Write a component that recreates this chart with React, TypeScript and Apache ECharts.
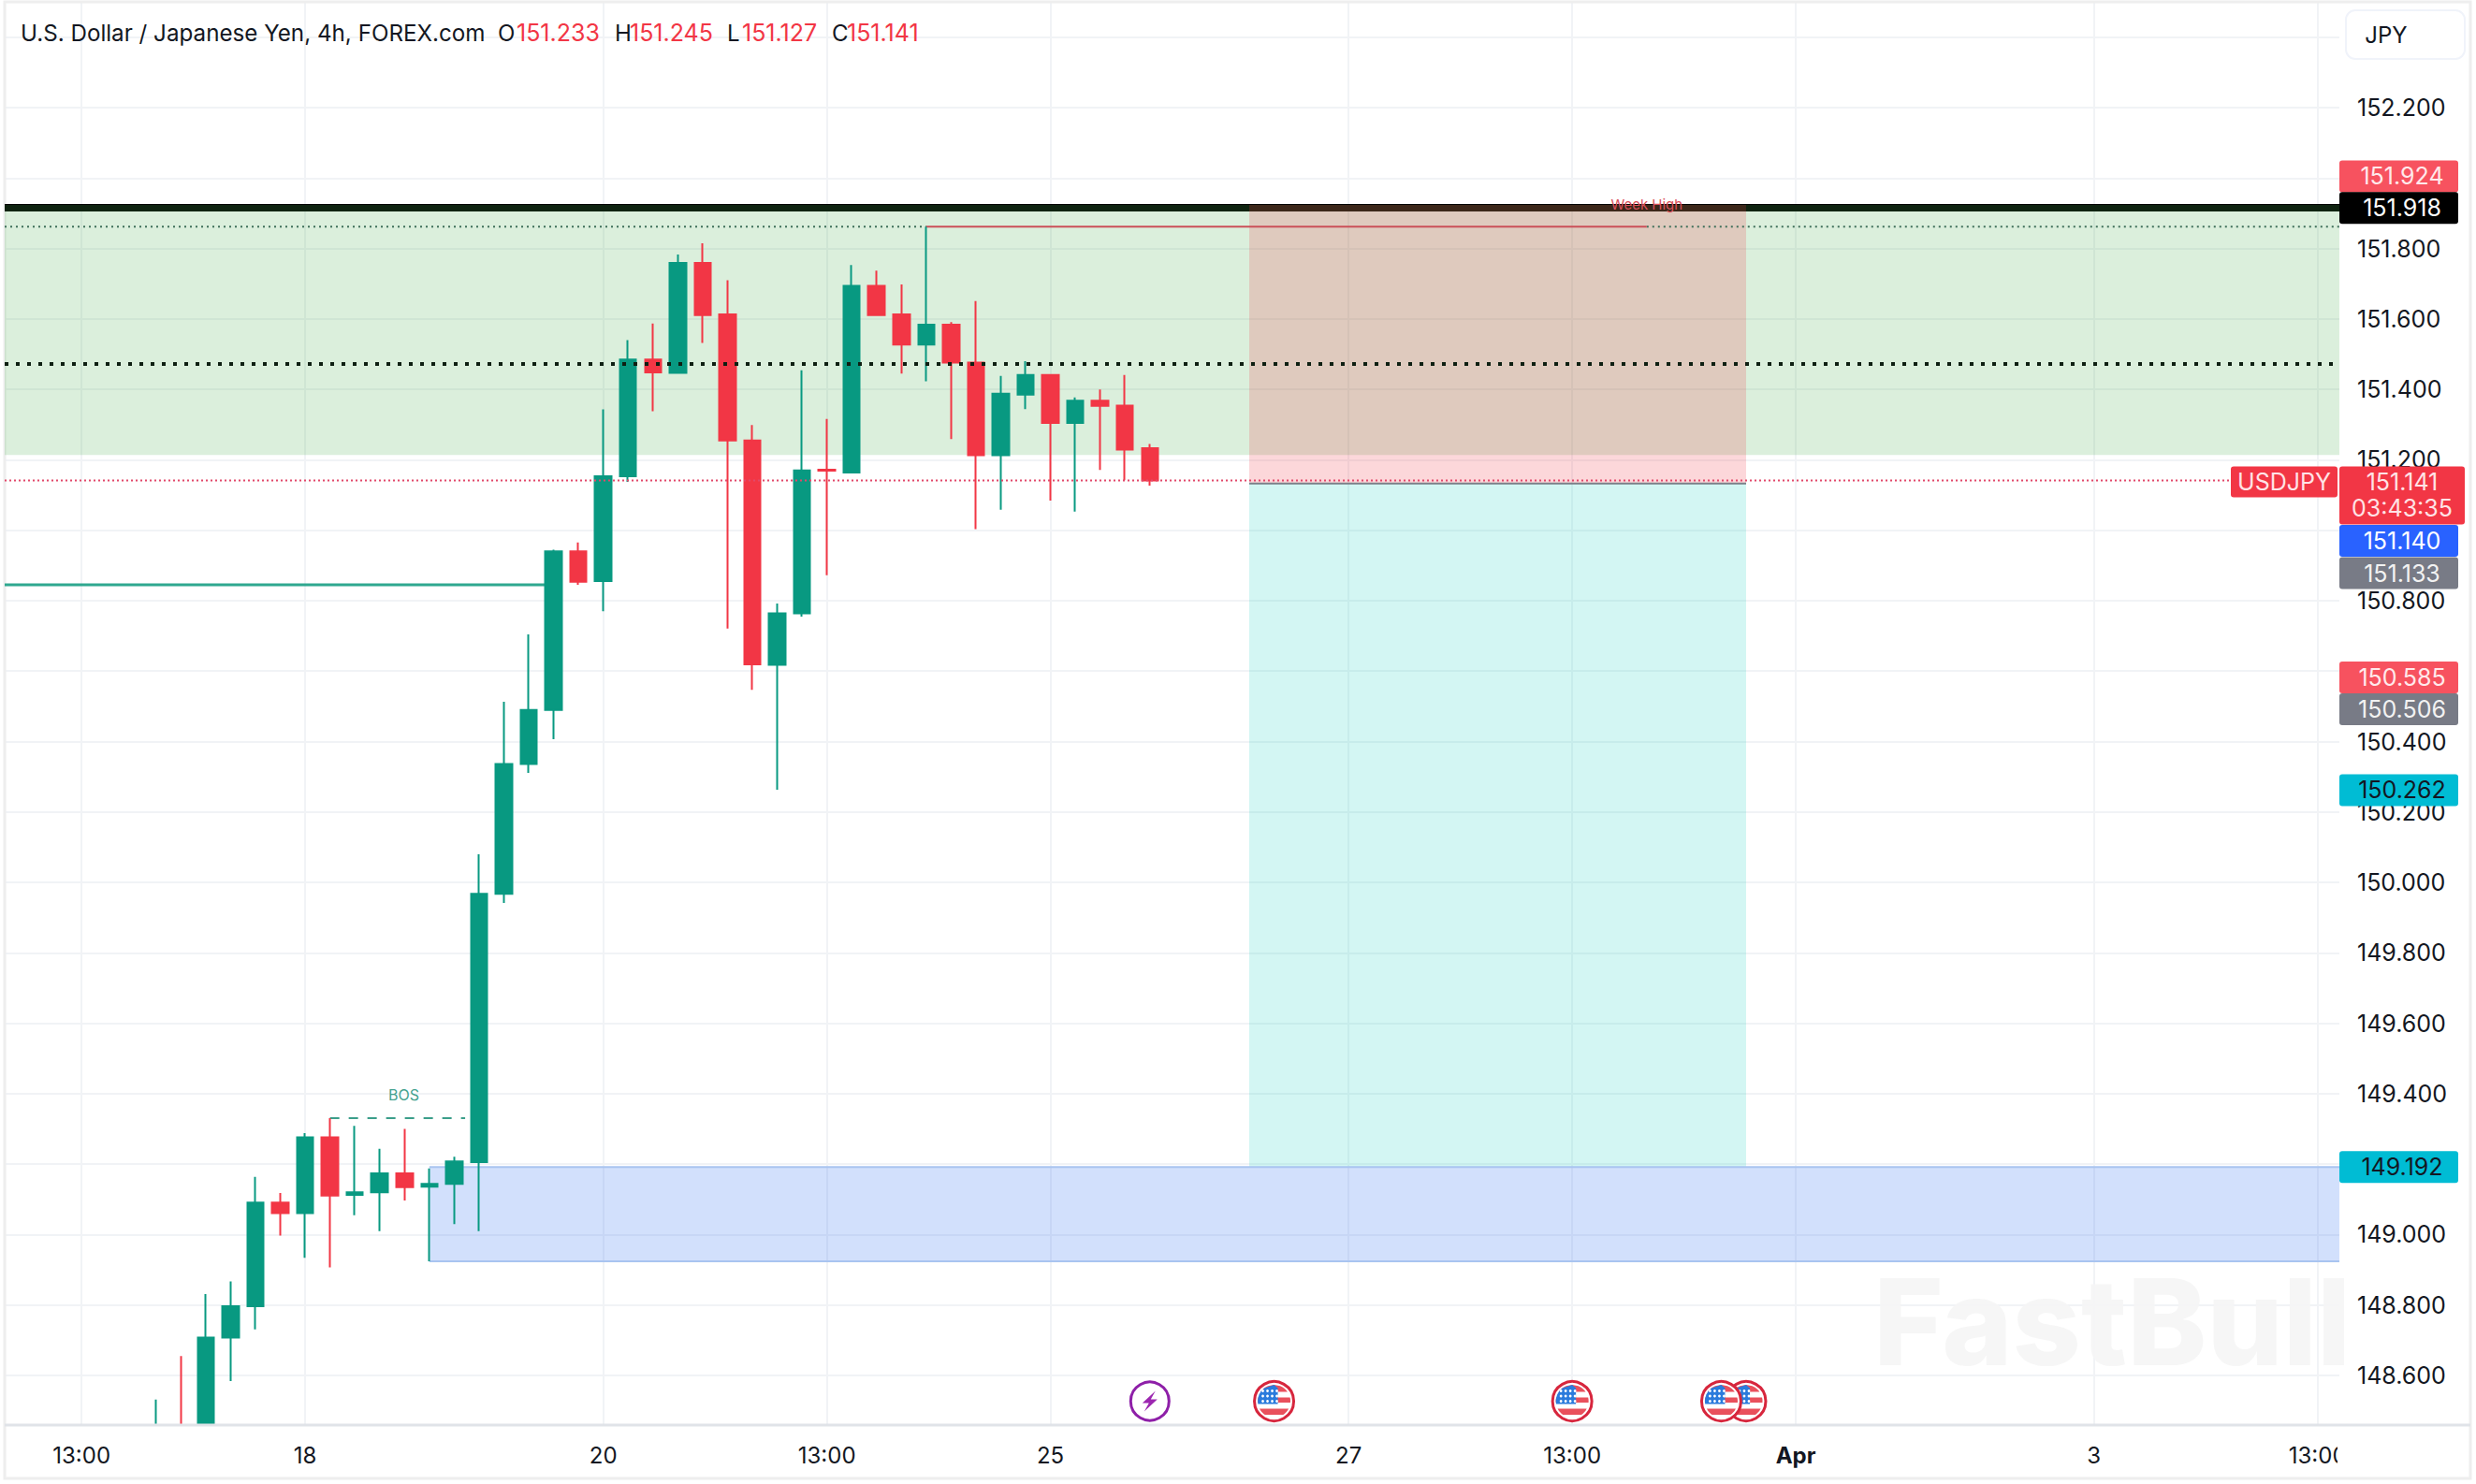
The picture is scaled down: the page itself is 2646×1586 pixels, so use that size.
import React, { useEffect, useRef } from "react";
import * as echarts from "echarts";

// ---- candle data (index 0 is the left-most visible bar; the first three are cut off by the chart's lower edge) ----
const opens = [148.4593, 148.4593, 148.4593, 148.708, 148.797, 149.091, 149.061, 149.276, 149.113, 149.12, 149.174, 149.136, 149.144, 149.206, 149.968, 150.336, 150.49, 150.94, 150.856, 151.153, 151.485, 151.447, 151.759, 151.613, 151.255, 150.618, 150.764, 151.172, 151.164, 151.694, 151.613, 151.527, 151.584, 151.476, 151.213, 151.385, 151.441, 151.305, 151.368, 151.354, 151.233];
const closes = [148.4594, 148.4592, 148.708, 148.797, 149.091, 149.061, 149.276, 149.111, 149.12, 149.174, 149.135, 149.144, 149.208, 149.968, 150.336, 150.49, 150.94, 150.854, 151.153, 151.485, 151.448, 151.759, 151.611, 151.255, 150.619, 150.764, 151.17, 151.169, 151.694, 151.611, 151.527, 151.584, 151.476, 151.213, 151.388, 151.441, 151.305, 151.368, 151.353, 151.229, 151.141];
const lows = [148.4593, 148.4593, 148.4593, 148.584, 148.731, 148.997, 148.934, 148.907, 149.055, 149.01, 149.097, 148.924, 149.03, 149.01, 149.942, 150.311, 150.407, 150.845, 150.77, 151.137, 151.338, 151.447, 151.532, 150.721, 150.547, 150.263, 150.755, 150.872, 151.164, 151.608, 151.445, 151.423, 151.259, 151.003, 151.058, 151.344, 151.084, 151.053, 151.171, 151.142, 151.127];
const highs = [148.532, 148.655, 148.831, 148.867, 149.164, 149.118, 149.288, 149.331, 149.309, 149.244, 149.3, 149.188, 149.221, 150.08, 150.513, 150.704, 150.945, 150.965, 151.343, 151.54, 151.587, 151.783, 151.815, 151.71, 151.299, 150.792, 151.454, 151.316, 151.753, 151.737, 151.698, 151.862, 151.591, 151.651, 151.438, 151.48, 151.441, 151.377, 151.4, 151.441, 151.245];

// ---- axes ----
const xMin = -6.094;
const xMax = 87.88;
const yMin = 148.4593;
const yMax = 152.4976;
const xTickIndex = [-3, 6, 18, 27, 36, 48, 57, 66, 78, 87];
const xTickLabels = ["13:00", "18", "20", "13:00", "25", "27", "13:00", "Apr", "3", "13:00"];
const yTicks = [152.4, 152.2, 152.0, 151.8, 151.6, 151.4, 151.2, 151.0, 150.8, 150.6, 150.4, 150.2, 150.0, 149.8, 149.6, 149.4, 149.2, 149.0, 148.8, 148.6];
const yLabelsHidden = [152.4, 152.0, 151.0, 150.6];

// ---- price levels ----
const weekHigh = 151.916;
const zoneTop = 151.924;
const zoneBottom = 151.214;
const midDotted = 151.472;
const lastPrice = 151.141;
const entryPrice = 151.133;
const targetPrice = 149.192;
const weekHighLine = 151.862;
const swingLine = 150.845;
const bosLevel = 149.331;
const blueBottom = 148.924;
const eventLevel = 148.527;

// ---- bar anchors ----
const rrStart = 44;
const rrEnd = 64;
const blueStart = 11;
const weekHighStart = 31;
const weekHighEnd = 60;
const swingEnd = 16;
const bosStart = 7;
const bosEnd = 12.44;
const bosTextBar = 9.97;
const bosTextLevel = 149.398;
const weekTextLevel = 151.926;
const lastLineEnd = 83.65;

// ---- price tags ----
const tagTexts = ["151.924", "151.918", "151.140", "151.133", "150.585", "150.506", "150.262", "149.192"];
const tagSlots = [152.005, 151.915, 150.97, 150.878, 150.582, 150.492, 150.262, 149.192];
const tagFills = ["#F7525F", "#000000", "#2962FF", "#787B86", "#F7525F", "#787B86", "#00BCD4", "#00BCD4"];
const tagInks = ["#FFE9EB", "#FFFFFF", "#FFFFFF", "#F2F2F2", "#FFE9EB", "#F2F2F2", "#131722", "#131722"];
const countdown = "03:43:35";
const symbolTag = "USDJPY";

// ---- notes on the chart ----
const noteTexts = ["BOS", "Week High"];
const noteBars = [bosTextBar, weekHighEnd];
const noteLevels = [bosTextLevel, weekTextLevel];
const noteInks = ["#44A28F", "#D9505A"];
const noteSizes = [16, 15];

// ---- header ----
const headerTitle = "U.S. Dollar / Japanese Yen, 4h, FOREX.com";
const headerKeys = ["O", "H", "L", "C"];
const headerValues = ["151.233", "151.245", "151.127", "151.141"];

// ---- calendar events ----
const eventBars = [64, 63, 57, 45, 40];
const eventKinds = ["us", "us", "us", "us", "bolt"];

const FONT = "Inter, Roboto, sans-serif";
const GREEN = "#089981";
const RED = "#F23645";
const keyX = [532, 657, 777, 889];
const valueX = [552, 673, 793, 905];

const candles = opens.map((o, i) => [i, o, closes[i], lows[i], highs[i]]);

function hline(name: string, x0: number, x1: number, y: number, z: number, lineStyle: any) {
  return {
    name,
    type: "line",
    z,
    symbol: "none",
    silent: true,
    data: [[x0, y], [x1, y]],
    lineStyle,
  };
}

function zoneSeries(name: string, box: number[], fill: string, z: number, stroke?: string) {
  return {
    name,
    type: "custom",
    z,
    silent: true,
    data: [box],
    renderItem: (_: any, api: any) => {
      const a = api.coord([api.value(0), api.value(2)]);
      const b = api.coord([api.value(1), api.value(3)]);
      return {
        type: "group",
        children: [
          { type: "rect", shape: { x: a[0], y: a[1], width: b[0] - a[0], height: b[1] - a[1] }, style: { fill } },
          ...(stroke
            ? [
                { type: "line", shape: { x1: a[0], y1: a[1], x2: b[0], y2: a[1] }, style: { stroke, lineWidth: 2 } },
                { type: "line", shape: { x1: a[0], y1: b[1], x2: b[0], y2: b[1] }, style: { stroke, lineWidth: 2 } },
              ]
            : []),
        ],
      };
    },
  };
}

function chord(r: number, y0: number, y1: number) {
  const left: number[][] = [];
  const right: number[][] = [];
  const top = Math.max(y0, -r);
  const bottom = Math.min(y1, r);
  for (let k = 0; k <= 6; k++) {
    const y = top + ((bottom - top) * k) / 6;
    const w = Math.sqrt(Math.max(0, r * r - y * y));
    left.push([-w, y]);
    right.unshift([w, y]);
  }
  return [...left, ...right];
}

function flagChildren() {
  const r = 17.5;
  const stripeRed = "#E9505C";
  const kids: any[] = [
    { type: "circle", shape: { cx: 0, cy: 0, r: 21 }, style: { fill: "#fff", stroke: "#D7263D", lineWidth: 3 } },
  ];
  [[-17.5, -10], [-4, 1.5], [8, 14.5]].forEach(([a, b]) => {
    kids.push({ type: "polygon", shape: { points: chord(r, a, b) }, style: { fill: stripeRed } });
  });
  const canton: number[][] = chord(r, -17.5, 3).map(([x, y]) => [Math.min(x, 4), y]);
  kids.push({ type: "polygon", shape: { points: canton }, style: { fill: "#2B7BDC" } });
  for (let row = 0; row < 3; row++) {
    for (let col = 0; col < 4; col++) {
      kids.push({
        type: "circle",
        shape: { cx: -12 + col * 5, cy: -11 + row * 5.5, r: 1.4 },
        style: { fill: "#fff" },
      });
    }
  }
  return kids;
}

function boltChildren() {
  return [
    { type: "circle", shape: { cx: 0, cy: 0, r: 20.5 }, style: { fill: "#fff", stroke: "#8E1FA8", lineWidth: 3 } },
    {
      type: "polygon",
      shape: { points: [[6, -11], [-8, 2], [-1, 2], [-6, 11], [8, -2], [1, -2]] },
      style: { fill: "#9C27B0" },
    },
  ];
}

export default function App() {
  const ref = useRef<HTMLDivElement>(null);

  useEffect(() => {
    document.body.style.margin = "0";
    document.body.style.background = "#fff";
    document.body.style.overflow = "hidden";
    const chart = echarts.init(ref.current!, undefined, { renderer: "svg" });

    const option: any = {
      animation: false,
      backgroundColor: "#fff",
      grid: { left: 5, top: 3, width: 2495, height: 1520 },
      xAxis: {
        type: "value",
        min: xMin,
        max: xMax,
        axisLine: { show: false },
        axisTick: { show: false, customValues: xTickIndex },
        splitLine: { show: true, lineStyle: { color: "#F1F3F6", width: 2 } },
        axisLabel: {
          customValues: xTickIndex,
          margin: 20,
          fontFamily: FONT,
          fontSize: 24,
          color: "#131722",
          showMinLabel: true,
          showMaxLabel: true,
          hideOverlap: false,
          formatter: (v: number) => {
            const t = xTickLabels[xTickIndex.indexOf(v)] ?? "";
            return t === "Apr" ? `{b|${t}}` : t;
          },
          rich: { b: { fontFamily: FONT, fontSize: 24, fontWeight: 700, color: "#131722" } },
        },
      },
      yAxis: {
        type: "value",
        position: "right",
        min: yMin,
        max: yMax,
        axisLine: { show: false },
        axisTick: { show: false, customValues: yTicks },
        splitLine: { show: true, lineStyle: { color: "#F1F3F6", width: 2 } },
        axisLabel: {
          customValues: yTicks,
          margin: 19,
          fontFamily: FONT,
          fontSize: 25,
          color: "#131722",
          formatter: (v: number) => (yLabelsHidden.some((h) => Math.abs(h - v) < 1e-6) ? "" : v.toFixed(3)),
        },
      },
      series: [
        hline("Week high level", xMin, xMax, weekHigh, 2, { color: "#000", width: 8 }),
        zoneSeries("Supply zone", [xMin, xMax, zoneTop, zoneBottom], "rgba(76,175,80,0.2)", 3),
        zoneSeries("Risk", [rrStart, rrEnd, zoneTop, entryPrice], "rgba(242,54,69,0.2)", 4),
        zoneSeries("Reward", [rrStart, rrEnd, entryPrice, targetPrice], "rgba(34,211,196,0.2)", 4),
        zoneSeries("Demand zone", [blueStart, xMax, targetPrice, blueBottom], "rgba(41,110,240,0.21)", 4, "#A9C4F0"),
        hline("Entry", rrStart, rrEnd, entryPrice, 5, { color: "#7b7f88", width: 2 }),
        hline("Swing", xMin, swingEnd, swingLine, 5, { color: "#2FA88F", width: 3 }),
        hline("Week high start", xMin, weekHighStart, weekHighLine, 5, { color: "#3F6F5A", width: 2, type: [2, 4] }),
        hline("Week high end", weekHighEnd, xMax, weekHighLine, 5, { color: "#3F6F5A", width: 2, type: [2, 4] }),
        hline("Week high ray", weekHighStart, weekHighEnd, weekHighLine, 5, { color: "#CB4F58", width: 2 }),
        hline("BOS line", bosStart, bosEnd, bosLevel, 5, { color: "#3B9E8A", width: 2, type: [10, 10] }),
        {
          name: "USDJPY",
          type: "candlestick",
          z: 6,
          silent: true,
          barWidth: 18,
          encode: { x: 0, y: [1, 2, 3, 4] },
          data: candles,
          itemStyle: { color: GREEN, color0: RED, borderColor: GREEN, borderColor0: RED, borderWidth: 2 },
        },
        hline("Mid level", xMin, xMax, midDotted, 7, { color: "#0E1F12", width: 4, type: [4, 8] }),
        hline("Last price", xMin, lastLineEnd, lastPrice, 7, { color: "#E2486A", width: 2, type: [2, 3] }),
        {
          name: "Notes",
          type: "custom",
          z: 8,
          silent: true,
          data: noteBars.map((b, i) => [b, noteLevels[i]]),
          renderItem: (params: any, api: any) => {
            const p = api.coord([api.value(0), api.value(1)]);
            const i = params.dataIndex;
            return {
              type: "text",
              style: {
                text: noteTexts[i],
                x: p[0],
                y: p[1],
                fill: noteInks[i],
                fontFamily: FONT,
                fontSize: noteSizes[i],
                textAlign: "center",
                textVerticalAlign: "middle",
              },
            };
          },
        },
        {
          name: "Events",
          type: "custom",
          z: 9,
          silent: true,
          data: eventBars.map((b) => [b, eventLevel]),
          renderItem: (params: any, api: any) => {
            const p = api.coord([api.value(0), api.value(1)]);
            return {
              type: "group",
              x: p[0],
              y: p[1],
              children: eventKinds[params.dataIndex] === "us" ? flagChildren() : boltChildren(),
            };
          },
        },
        {
          name: "Price tags",
          type: "custom",
          z: 20,
          silent: true,
          data: tagSlots.map((s) => [xMax, s]),
          renderItem: (params: any, api: any) => {
            const p = api.coord([api.value(0), api.value(1)]);
            const i = params.dataIndex;
            return {
              type: "group",
              children: [
                {
                  type: "rect",
                  shape: { x: p[0], y: p[1] - 17, width: 127, height: 34, r: 3 },
                  style: { fill: tagFills[i] },
                },
                {
                  type: "text",
                  style: {
                    text: tagTexts[i],
                    x: p[0] + 67,
                    y: p[1],
                    fill: tagInks[i],
                    fontFamily: FONT,
                    fontSize: 25,
                    textAlign: "center",
                    textVerticalAlign: "middle",
                  },
                },
              ],
            };
          },
        },
        {
          name: "Last price tag",
          type: "custom",
          z: 21,
          silent: true,
          data: [[xMax, lastPrice]],
          renderItem: (_: any, api: any) => {
            const p = api.coord([api.value(0), api.value(1)]);
            const text = (t: string, x: number, y: number, size: number) => ({
              type: "text",
              style: {
                text: t,
                x,
                y,
                fill: "#FFE3E6",
                fontFamily: FONT,
                fontSize: size,
                textAlign: "center",
                textVerticalAlign: "middle",
              },
            });
            return {
              type: "group",
              children: [
                { type: "rect", shape: { x: p[0] - 116, y: p[1] - 15, width: 114, height: 33, r: 3 }, style: { fill: RED } },
                { type: "rect", shape: { x: p[0], y: p[1] - 15, width: 134, height: 62, r: 3 }, style: { fill: RED } },
                text(symbolTag, p[0] - 59, p[1] + 1, 25),
                text(lastPrice.toFixed(3), p[0] + 67, p[1] + 1, 25),
                text(countdown, p[0] + 67, p[1] + 29, 25),
              ],
            };
          },
        },
      ],
      graphic: [
        { type: "rect", silent: true, z: 1, shape: { x: 5, y: 2, width: 2635, height: 1578 }, style: { fill: "none", stroke: "#EEEEEE", lineWidth: 3 } },
        { type: "line", silent: true, z: 30, shape: { x1: 5, y1: 1523, x2: 2640, y2: 1523 }, style: { stroke: "#E0E3E8", lineWidth: 3 } },
        { type: "rect", silent: true, z: 30, shape: { x: 2498, y: 1532, width: 16, height: 44 }, style: { fill: "#fff" } },
        { type: "rect", silent: true, z: 30, shape: { x: 2507, y: 11, width: 127, height: 52, r: 10 }, style: { fill: "#fff", stroke: "#F0F3FA", lineWidth: 2 } },
        { type: "text", silent: true, z: 31, style: { text: "JPY", x: 2550, y: 37, fill: "#131722", fontFamily: FONT, fontSize: 24, textAlign: "center", textVerticalAlign: "middle" } },
        { type: "text", silent: true, z: 31, style: { text: headerTitle, x: 22, y: 35, fill: "#131722", fontFamily: FONT, fontSize: 24.2, textVerticalAlign: "middle" } },
        ...headerKeys.map((t, i) => ({
          type: "text", silent: true, z: 31, style: { text: t, x: keyX[i], y: 35, fill: "#131722", fontFamily: FONT, fontSize: 24, textVerticalAlign: "middle" },
        })),
        ...headerValues.map((t, i) => ({
          type: "text", silent: true, z: 31, style: { text: t, x: valueX[i], y: 35, fill: RED, fontFamily: FONT, fontSize: 25, textVerticalAlign: "middle" },
        })),
        {
          type: "text", silent: true, z: 40,
          style: {
            text: "FastBull", x: 2002, y: 1412, fill: "rgba(245,245,245,0.92)", fontFamily: FONT, fontSize: 128, fontWeight: 800, textVerticalAlign: "middle",
            shadowColor: "rgba(0,0,0,0.16)", shadowBlur: 14, shadowOffsetY: 7,
          },
        },
      ],
    };
    chart.setOption(option);
    return () => chart.dispose();
  }, []);

  return <div ref={ref} style={{ position: "absolute", left: 0, top: 0, width: 2646, height: 1586 }} />;
}
